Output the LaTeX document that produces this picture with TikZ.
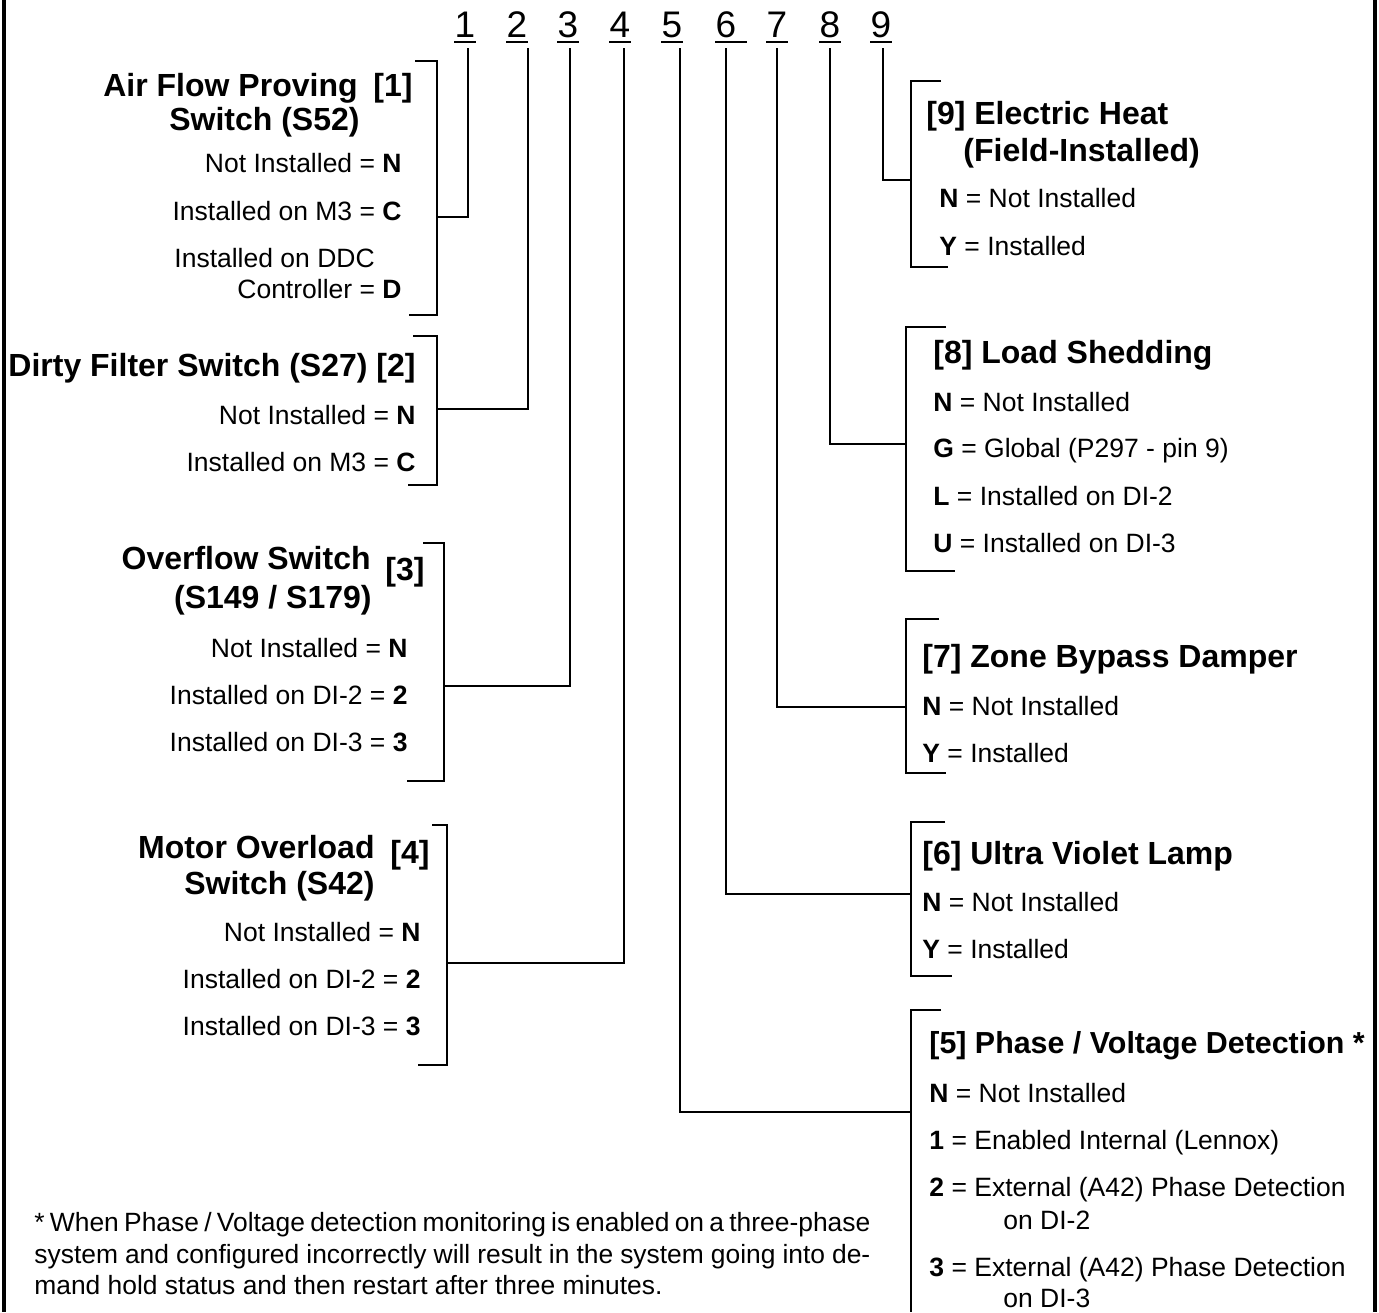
\documentclass[tikz,border=0pt]{standalone}
\usepackage{fontspec}
\setmainfont{Liberation Sans}
\usetikzlibrary{positioning}

\begin{document}
\begin{tikzpicture}[x=0.5pt, y=-0.5pt,
        digit/.style={font=\fontsize{18.5}{20}\selectfont, inner sep=0pt, anchor=base},
        underbar/.style={line width=1.1pt},
        heading/.style={font=\fontsize{16}{19}\selectfont\bfseries, inner sep=0pt, text height=11.45pt, text depth=0pt},
        choice/.style={font=\fontsize{13.25}{16}\selectfont, inner sep=0pt, text height=9.5pt, text depth=0pt},
        footnote/.style={font=\fontsize{13.2}{15}\selectfont, inner sep=0pt, text height=9.45pt, text depth=0pt, anchor=west},
        wire/.style={line width=1.25pt},
        bracket/.style={line width=1.25pt},
        frame/.style={line width=2pt}
      ]
      \useasboundingbox (0,0) rectangle (1379,1312);
      \draw[frame] (4,0) -- (4,1312);
      \draw[frame] (1375,0) -- (1375,1312);

      \node[digit] (d1) at (465,37) {1};
      \node[digit] (d2) at (517,37) {2};
      \node[digit] (d3) at (568,37) {3};
      \node[digit] (d4) at (620,37) {4};
      \node[digit] (d5) at (672,37) {5};
      \node[digit] (d6) at (726,37) {6};
      \node[digit] (d7) at (777,37) {7};
      \node[digit] (d8) at (830,37) {8};
      \node[digit] (d9) at (881,37) {9};
      \foreach \d in {d1,d2,d3,d4,d5,d7,d8,d9}
        \draw[underbar] ([yshift=-2.6pt]\d.base west) -- ([yshift=-2.6pt]\d.base east);
      \draw[underbar] ([yshift=-2.6pt]d6.base west) -- ([yshift=-2.6pt,xshift=5pt]d6.base east);

      \draw[bracket] (415,61) -| (437,315) -- (409,315);
      \draw[bracket] (413,336) -| (437,485) -- (408,485);
      \draw[bracket] (423,543) -| (444,781) -- (407,781);
      \draw[bracket] (432,825) -| (447,1065) -- (418,1065);
      \draw[bracket] (941,81) -| (911,267) -- (948,267);
      \draw[bracket] (946,327) -| (906,571) -- (955,571);
      \draw[bracket] (939,619) -| (906,773) -- (946,773);
      \draw[bracket] (945,822) -| (911,976) -- (952,976);
      \draw[bracket] (941,1010) -| (911,1312);

      \coordinate (j1) at (437,217);
      \coordinate (j2) at (437,409);
      \coordinate (j3) at (444,686);
      \coordinate (j4) at (447,963);
      \coordinate (j5) at (911,1112);
      \coordinate (j6) at (911,894);
      \coordinate (j7) at (906,707);
      \coordinate (j8) at (906,444);
      \coordinate (j9) at (911,180);

      \draw[wire] (d1.base) ++(3,11) |- (j1);
      \draw[wire] (d2.base) ++(11,11) |- (j2);
      \draw[wire] (d3.base) ++(2,11) |- (j3);
      \draw[wire] (d4.base) ++(4,11) |- (j4);
      \draw[wire] (d5.base) ++(8,11) |- (j5);
      \draw[wire] (d6.base) ++(0,11) |- (j6);
      \draw[wire] (d7.base) ++(0,11) |- (j7);
      \draw[wire] (d8.base) ++(0,11) |- (j8);
      \draw[wire] (d9.base) ++(2,11) |- (j9);

      \node[heading, anchor=east] (airflow) at (358,85) {Air Flow Proving};
      \node[heading, anchor=east] (airflowTag) at (413,85) {[1]};
      \node[heading, anchor=east] (airflowSub) at (360,119) {Switch (S52)};
      \node[choice, anchor=east] (airflowN) at (402,163) {Not Installed = \textbf{N}};
      \node[choice, anchor=east] (airflowC) at (402,211) {Installed on M3 = \textbf{C}};
      \node[choice, anchor=west] (airflowD) at (174,258) {Installed on DDC};
      \node[choice, anchor=east] (airflowDb) at (402,289) {Controller = \textbf{D}};

      \node[heading, anchor=east] (filter) at (416,365) {Dirty Filter Switch (S27) [2]};
      \node[choice, anchor=east] (filterN) at (416,415) {Not Installed = \textbf{N}};
      \node[choice, anchor=east] (filterC) at (416,462) {Installed on M3 = \textbf{C}};

      \node[heading, anchor=east] (overflow) at (371,558) {Overflow Switch};
      \node[heading, anchor=east] (overflowTag) at (425,569) {[3]};
      \node[heading, anchor=east] (overflowSub) at (372,597) {(S149 / S179)};
      \node[choice, anchor=east] (overflowN) at (408,648) {Not Installed = \textbf{N}};
      \node[choice, anchor=east] (overflowTwo) at (408,695) {Installed on DI-2 = \textbf{2}};
      \node[choice, anchor=east] (overflowThree) at (408,742) {Installed on DI-3 = \textbf{3}};

      \node[heading, anchor=east] (motor) at (375,847) {Motor Overload};
      \node[heading, anchor=east] (motorTag) at (430,852) {[4]};
      \node[heading, anchor=east] (motorSub) at (375,883) {Switch (S42)};
      \node[choice, anchor=east] (motorN) at (421,932) {Not Installed = \textbf{N}};
      \node[choice, anchor=east] (motorTwo) at (421,979) {Installed on DI-2 = \textbf{2}};
      \node[choice, anchor=east] (motorThree) at (421,1026) {Installed on DI-3 = \textbf{3}};

      \node[heading, anchor=west] (heat) at (926,113) {[9] Electric Heat};
      \node[heading, anchor=west] (heatSub) at (963,150) {(Field-Installed)};
      \node[choice, anchor=west] (heatN) at (939,198) {\textbf{N} = Not Installed};
      \node[choice, anchor=west] (heatY) at (939,246) {\textbf{Y} = Installed};

      \node[heading, anchor=west] (shed) at (933,352) {[8] Load Shedding};
      \node[choice, anchor=west] (shedN) at (933,402) {\textbf{N} = Not Installed};
      \node[choice, anchor=west] (shedG) at (933,448) {\textbf{G} = Global (P297 - pin 9)};
      \node[choice, anchor=west] (shedL) at (933,496) {\textbf{L} = Installed on DI-2};
      \node[choice, anchor=west] (shedU) at (933,543) {\textbf{U} = Installed on DI-3};

      \node[heading, anchor=west] (bypass) at (922,656) {[7] Zone Bypass Damper};
      \node[choice, anchor=west] (bypassN) at (922,706) {\textbf{N} = Not Installed};
      \node[choice, anchor=west] (bypassY) at (922,753) {\textbf{Y} = Installed};

      \node[heading, anchor=west] (uvlamp) at (922,853) {[6] Ultra Violet Lamp};
      \node[choice, anchor=west] (uvlampN) at (922,902) {\textbf{N} = Not Installed};
      \node[choice, anchor=west] (uvlampY) at (922,949) {\textbf{Y} = Installed};

      \node[heading, anchor=west, font=\fontsize{15.2}{18}\selectfont\bfseries] (phase) at (929,1042) {[5] Phase / Voltage Detection *};
      \node[choice, anchor=west] (phaseN) at (929,1093) {\textbf{N} = Not Installed};
      \node[choice, anchor=west] (phaseOne) at (929,1140) {\textbf{1} = Enabled Internal (Lennox)};
      \node[choice, anchor=west] (phaseTwo) at (929,1187) {\textbf{2} = External (A42) Phase Detection};
      \node[choice, anchor=west] (phaseTwoB) at (1003,1220) {on DI-2};
      \node[choice, anchor=west] (phaseThree) at (929,1267) {\textbf{3} = External (A42) Phase Detection};
      \node[choice, anchor=west] (phaseThreeB) at (1003,1298) {on DI-3};

      \node[footnote] (noteA) at (34,1222) {\makebox[418pt][s]{* When Phase / Voltage detection monitoring is enabled on a three-phase}};
      \node[footnote] (noteB) at (34,1254) {\makebox[418pt][s]{system and configured incorrectly will result in the system going into de-}};
      \node[footnote] (noteC) at (34,1285) {mand hold status and then restart after three minutes.};
    \end{tikzpicture}
\end{document}
